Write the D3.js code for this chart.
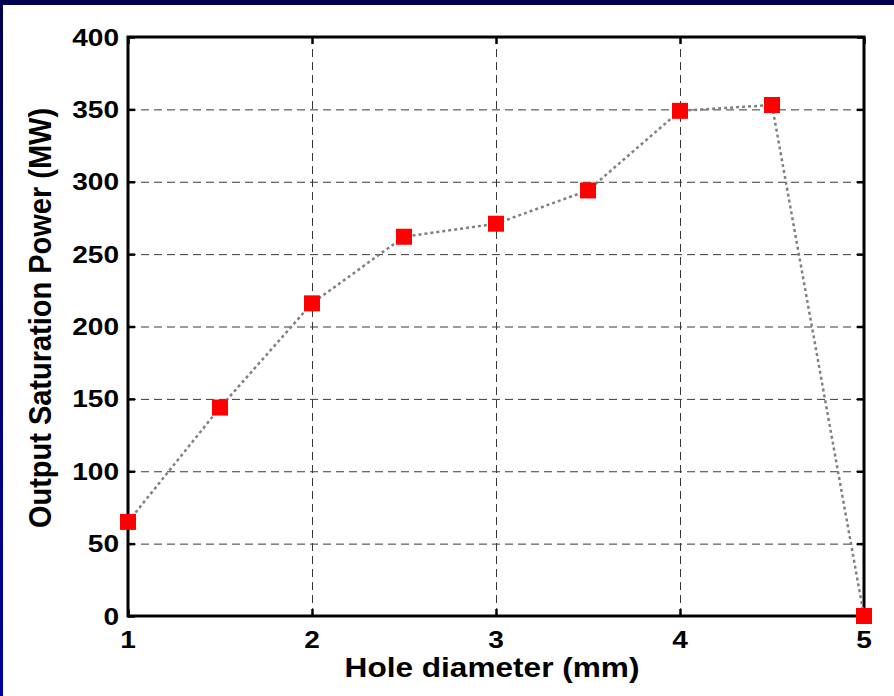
<!DOCTYPE html>
<html>
<head>
	<meta charset="utf-8">
	<title>Output saturation power vs hole diameter</title>
	<style>
		body {
			margin: 0;
			background: #fff;
			font-family: "Liberation Sans", Arial, sans-serif;
		}
		svg { display: block; }
		.grid line { stroke: #383838; stroke-width: 1; stroke-dasharray: 8,5; }
		.grid path { display: none; }
		.ticks path { display: none; }
		.ticks line { stroke: #000; stroke-width: 2.5; }
		.ticks text { display: none; }
		.lbl { font-weight: bold; fill: #000; }
	</style>
</head>
<body>
	<div id="chart"></div>

	<script src="https://cdnjs.cloudflare.com/ajax/libs/d3/7.8.5/d3.min.js"></script>
	<script>
	// Data
	var holeDiameter = [1, 1.5, 2, 2.5, 3, 3.5, 4, 4.5, 5]
	var satPower     = [65, 144, 216, 262, 271, 294, 349, 353, 0]
	var xTicks       = [1, 2, 3, 4, 5]
	var yTicks       = [0, 50, 100, 150, 200, 250, 300, 350, 400]

	// Canvas
	var W = 894, H = 696
	var plot = { left: 128, right: 864, top: 37, bottom: 616 }
	var sx = 1.17  // the text in the picture is a bit wide

	var svg = d3.select("#chart").append("svg")
		.attr("width", W)
		.attr("height", H)

	// Slide frame: dark band at the top and down the left side
	var grad = svg.append("defs").append("linearGradient")
		.attr("id", "edge").attr("x1", 0).attr("y1", 0).attr("x2", 0).attr("y2", 1)
	grad.append("stop").attr("offset", "0%").attr("stop-color", "#000050")
	grad.append("stop").attr("offset", "100%").attr("stop-color", "#0000a0")
	svg.append("rect").attr("x", 0).attr("y", 0).attr("width", W).attr("height", 5).attr("fill", "#000050")
	svg.append("rect").attr("x", 0).attr("y", 0).attr("width", 3).attr("height", H).attr("fill", "url(#edge)")

	// Scales
	var x = d3.scaleLinear().domain([1, 5]).range([plot.left, plot.right])
	var y = d3.scaleLinear().domain([0, 400]).range([plot.bottom, plot.top])
	var pw = plot.right - plot.left, ph = plot.bottom - plot.top

	// Grid (skip the ones on the frame)
	svg.append("g").attr("class", "grid")
		.attr("transform", "translate(0," + plot.bottom + ")")
		.call(d3.axisBottom(x).tickValues(xTicks.slice(1, -1)).tickSize(-ph).tickFormat(""))
	svg.append("g").attr("class", "grid")
		.attr("transform", "translate(" + plot.left + ",0)")
		.call(d3.axisLeft(y).tickValues(yTicks.slice(1, -1)).tickSize(-pw).tickFormat(""))

	// Inward ticks on all four sides
	var tk = 7
	svg.append("g").attr("class", "ticks")
		.attr("transform", "translate(0," + plot.bottom + ")")
		.call(d3.axisBottom(x).tickValues(xTicks).tickSize(-tk))
	svg.append("g").attr("class", "ticks")
		.attr("transform", "translate(0," + plot.top + ")")
		.call(d3.axisTop(x).tickValues(xTicks).tickSize(-tk))
	svg.append("g").attr("class", "ticks")
		.attr("transform", "translate(" + plot.left + ",0)")
		.call(d3.axisLeft(y).tickValues(yTicks).tickSize(-tk))
	svg.append("g").attr("class", "ticks")
		.attr("transform", "translate(" + plot.right + ",0)")
		.call(d3.axisRight(y).tickValues(yTicks).tickSize(-tk))

	// Frame
	svg.append("rect")
		.attr("x", plot.left).attr("y", plot.top)
		.attr("width", pw).attr("height", ph)
		.attr("fill", "none").attr("stroke", "#000").attr("stroke-width", 3)

	// Tick labels
	svg.selectAll(".xlab").data(xTicks).enter().append("text")
		.attr("class", "lbl")
		.attr("transform", function(d){ return "translate(" + x(d) + ",648) scale(" + sx + ",1)" })
		.attr("text-anchor", "middle")
		.style("font-size", "24px")
		.text(function(d){ return d })
	svg.selectAll(".ylab").data(yTicks).enter().append("text")
		.attr("class", "lbl")
		.attr("transform", function(d){ return "translate(119," + (y(d) + 8.5) + ") scale(" + sx + ",1)" })
		.attr("text-anchor", "end")
		.style("font-size", "24px")
		.text(function(d){ return d })

	// Axis titles
	svg.append("text").attr("class", "lbl")
		.attr("transform", "translate(492,677) scale(1.17,1)")
		.attr("text-anchor", "middle")
		.style("font-size", "27px")
		.text("Hole diameter (mm)")
	svg.append("text").attr("class", "lbl")
		.attr("transform", "translate(51,318) scale(1.1,1) rotate(-90)")
		.attr("text-anchor", "middle")
		.style("font-size", "29px")
		.text("Output Saturation Power (MW)")

	// Data line and markers
	var pts = holeDiameter.map(function(d, i){ return [d, satPower[i]] })
	var line = d3.line().x(function(d){ return x(d[0]) }).y(function(d){ return y(d[1]) })
	svg.append("path")
		.attr("d", line(pts))
		.attr("fill", "none")
		.attr("stroke", "#808080")
		.attr("stroke-width", 2.5)
		.attr("stroke-dasharray", "3,3")

	var ms = 16
	svg.selectAll(".mk").data(pts).enter().append("rect")
		.attr("x", function(d){ return x(d[0]) - ms/2 })
		.attr("y", function(d){ return y(d[1]) - ms/2 })
		.attr("width", ms).attr("height", ms)
		.attr("fill", "#ff0000")
	</script>
</body>
</html>
